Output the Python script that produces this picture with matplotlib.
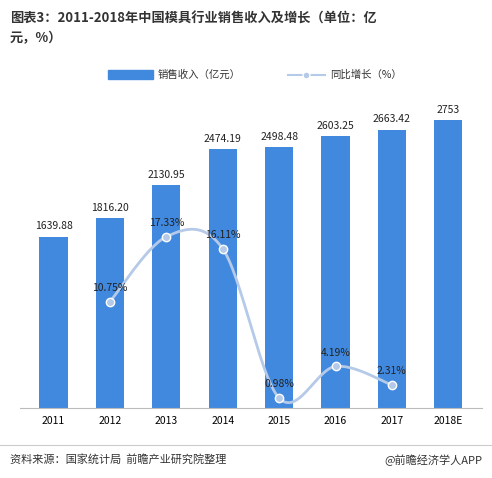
import matplotlib
matplotlib.use("Agg")
import matplotlib.pyplot as plt
import numpy as np

plt.rcParams['font.family'] = ['Noto Sans CJK SC', 'DejaVu Sans']

years = ['2011', '2012', '2013', '2014', '2015', '2016', '2017', '2018E']
sales = [1639.88, 1816.20, 2130.95, 2474.19, 2498.48, 2603.25, 2663.42, 2753]
sales_labels = ['1639.88', '1816.20', '2130.95', '2474.19', '2498.48', '2603.25', '2663.42', '2753']
growth_idx = [1, 2, 3, 4, 5, 6]
growth = [10.75, 17.33, 16.11, 0.98, 4.19, 2.31]

fig = plt.figure(figsize=(4.92, 4.78), dpi=100)
ax = fig.add_axes([0.04, 0.147, 0.94, 0.64])
x = np.arange(len(years))
ax.bar(x, sales, width=0.5, color='#4089de')
for xi, v, l in zip(x, sales, sales_labels):
    ax.text(xi, v + 50, l, ha='center', va='bottom', fontsize=7.5, color='#222')
ax.set_ylim(0, 2930)
ax.set_xlim(-0.6, 7.6)
ax.set_yticks([])
ax.set_xticks(x)
ax.set_xticklabels(years, fontsize=7.5)
ax.tick_params(axis='x', length=0, pad=6)
for s in ['top', 'right', 'left']:
    ax.spines[s].set_visible(False)
ax.spines['bottom'].set_color('#bbbbbb')

ax2 = ax.twinx()
ax2.set_ylim(0, 31)
ax2.axis('off')
px = np.array(growth_idx, float); py = np.array(growth, float)
P = np.vstack([px, py]).T
P = np.vstack([P[0], P, P[-1]])
xs, ys = [], []
for i in range(1, len(P) - 2):
    p0, p1, p2, p3 = P[i-1], P[i], P[i+1], P[i+2]
    for t in np.linspace(0, 1, 30):
        pt = 0.5 * ((2*p1) + (-p0+p2)*t + (2*p0-5*p1+4*p2-p3)*t**2 + (-p0+3*p1-3*p2+p3)*t**3)
        xs.append(pt[0]); ys.append(pt[1])
ax2.plot(xs, ys, color='#b5c9e8', lw=2)
ax2.plot(growth_idx, growth, 'o', ms=6, mfc='#b5c9e8', mec='white', mew=1)
for xi, g in zip(growth_idx, growth):
    ax2.text(xi, g + 0.9, f'{g:.2f}%', ha='center', va='bottom', fontsize=7.5, color='#222')

fig.text(0.02, 0.975, '图表3：2011-2018年中国模具行业销售收入及增长（单位：亿\n元，%）',
         ha='left', va='top', fontsize=9.5, fontweight='bold', color='#333', linespacing=1.45)
from matplotlib.patches import Rectangle
from matplotlib.lines import Line2D
fig.patches.append(Rectangle((0.22, 0.835), 0.09, 0.018, transform=fig.transFigure, color='#4089de'))
fig.text(0.32, 0.844, '销售收入（亿元）', fontsize=7.5, va='center', color='#333')
fig.lines.append(Line2D([0.585, 0.66], [0.844, 0.844], transform=fig.transFigure, color='#b5c9e8', lw=1.5))
fig.lines.append(Line2D([0.622], [0.844], transform=fig.transFigure, marker='o', ms=5, mfc='#b5c9e8', mec='white', color='#b5c9e8'))
fig.text(0.67, 0.844, '同比增长（%）', fontsize=7.5, va='center', color='#333')

fig.lines.append(Line2D([0, 1], [0.068, 0.068], transform=fig.transFigure, color='#cccccc', lw=0.8))
fig.text(0.02, 0.038, '资料来源：国家统计局  前瞻产业研究院整理', fontsize=8, style='italic', va='center', color='#333')
fig.text(0.98, 0.038, '@前瞻经济学人APP', fontsize=8, ha='right', va='center', color='#333')
fig.savefig('out.png', dpi=100)
